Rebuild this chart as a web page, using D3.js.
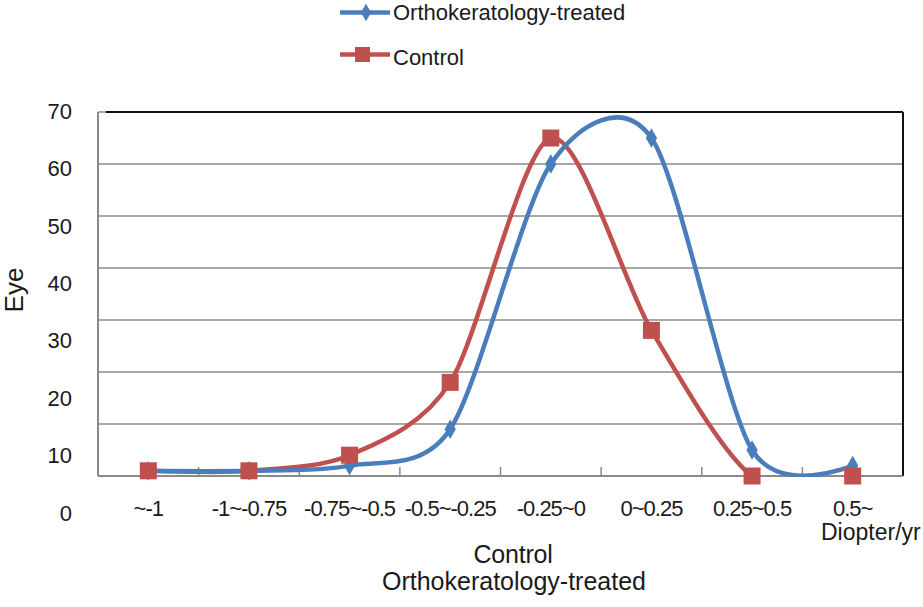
<!DOCTYPE html>
<html>
<head>
<meta charset="utf-8">
<script src="https://cdn.jsdelivr.net/npm/d3@7"></script>
<style>
  html, body { margin: 0; padding: 0; background: #fff; }
  svg { display: block; font-family: "Liberation Sans", Arial, sans-serif; }
</style>
</head>
<body>
<svg id="chart" width="923" height="607"></svg>
<script>
const categories = ["~-1", "-1~-0.75", "-0.75~-0.5", "-0.5~-0.25", "-0.25~0", "0~0.25", "0.25~0.5", "0.5~"];
const orthoValues = [1, 1, 2, 9, 60, 65, 5, 2];
const controlValues = [1, 1, 4, 18, 65, 28, 0, 0];
const yTicks = [0, 10, 20, 30, 40, 50, 60, 70];
const seriesNames = ["Orthokeratology-treated", "Control"];

const blue = "#4a7ebb";
const red = "#c0504d";

const svg = d3.select("#chart");
const plotL = 98, plotR = 903, plotT = 112, plotB = 476;

const x = d3.scaleBand().domain(categories).range([plotL, plotR]);
const y = d3.scaleLinear().domain([0, 70]).range([plotB, plotT]);
// the tick labels of the original sit on their own, wider spacing
const yLab = d3.scaleLinear().domain([0, 70]).range([520, 118.3]);

svg.append("defs").append("clipPath").attr("id", "plotClip")
  .append("rect").attr("x", plotL).attr("y", plotT - 3)
  .attr("width", plotR - plotL).attr("height", plotB - plotT + 4);

// gridlines
svg.append("g").selectAll("line").data(yTicks.filter(d => d > 0)).join("line")
  .attr("x1", plotL).attr("x2", plotR)
  .attr("y1", d => y(d)).attr("y2", d => y(d))
  .attr("stroke", "#8a8a8a").attr("stroke-width", 1.5);

// top border (black) and right border
svg.append("line").attr("x1", plotL + 8).attr("x2", plotR).attr("y1", y(70)).attr("y2", y(70))
  .attr("stroke", "#111").attr("stroke-width", 2);
svg.append("line").attr("x1", plotR).attr("x2", plotR).attr("y1", y(70)).attr("y2", y(0))
  .attr("stroke", "#111").attr("stroke-width", 2);

// left axis line and bottom axis line
svg.append("line").attr("x1", plotL).attr("x2", plotL).attr("y1", y(70)).attr("y2", y(0))
  .attr("stroke", "#8a8a8a").attr("stroke-width", 2);
svg.append("line").attr("x1", plotL).attr("x2", plotR).attr("y1", y(0)).attr("y2", y(0))
  .attr("stroke", "#8a8a8a").attr("stroke-width", 2);

// category boundary tick marks (pointing inward)
svg.append("g").selectAll("line").data(categories.slice(1)).join("line")
  .attr("x1", d => x(d)).attr("x2", d => x(d))
  .attr("y1", y(0)).attr("y2", y(0) - 9)
  .attr("stroke", "#8a8a8a").attr("stroke-width", 1.5);

// y tick labels
const yAxis = svg.append("g").attr("transform", "translate(72,0)")
  .call(d3.axisLeft(yLab).tickValues(yTicks).tickSize(0).tickPadding(0).tickFormat(d3.format("d")));
yAxis.select(".domain").remove();
yAxis.selectAll("text").attr("dy", "0").attr("x", 0)
  .attr("font-size", 22).attr("font-family", "Liberation Sans, Arial, sans-serif").attr("fill", "#1a1a1a");

// x tick labels
const xAxis = svg.append("g").attr("transform", "translate(0,516)")
  .call(d3.axisBottom(x).tickSize(0).tickPadding(0));
xAxis.select(".domain").remove();
xAxis.selectAll("text").attr("dy", "0").attr("y", 0)
  .attr("font-size", 22).attr("letter-spacing", "-1px")
  .attr("font-family", "Liberation Sans, Arial, sans-serif").attr("fill", "#1a1a1a");

// axis titles
svg.append("text").attr("transform", "translate(23,290) rotate(-90)")
  .attr("text-anchor", "middle").attr("font-size", 26).attr("fill", "#1a1a1a").text("Eye");
svg.append("text").attr("x", 821).attr("y", 540).attr("font-size", 23)
  .attr("fill", "#1a1a1a").text("Diopter/yr");
svg.append("text").attr("x", 513).attr("y", 563).attr("text-anchor", "middle")
  .attr("font-size", 25).attr("letter-spacing", "-0.2px").attr("fill", "#1a1a1a").text(seriesNames[1]);
svg.append("text").attr("x", 514).attr("y", 590).attr("text-anchor", "middle")
  .attr("font-size", 25).attr("fill", "#1a1a1a").text(seriesNames[0]);

// lines
const cx = (d, i) => x(categories[i]) + x.bandwidth() / 2;
const line = d3.line().x(cx).y(d => y(d)).curve(d3.curveCardinal.tension(0.15));

const lines = svg.append("g").attr("clip-path", "url(#plotClip)");
lines.append("path").datum(controlValues).attr("d", line)
  .attr("fill", "none").attr("stroke", red).attr("stroke-width", 4.5).attr("stroke-linejoin", "round");
lines.append("path").datum(orthoValues).attr("d", line)
  .attr("fill", "none").attr("stroke", blue).attr("stroke-width", 4.5).attr("stroke-linejoin", "round");

// markers
const diamond = d3.symbol().type(d3.symbolDiamond).size(110);
svg.append("g").selectAll("path").data(orthoValues).join("path")
  .attr("transform", (d, i) => `translate(${cx(d, i)},${y(d)})`)
  .attr("d", diamond).attr("fill", blue);
svg.append("g").selectAll("rect").data(controlValues).join("rect")
  .attr("x", (d, i) => cx(d, i) - 8.5).attr("y", d => y(d) - 8.5)
  .attr("width", 17).attr("height", 17).attr("fill", red);

// legend
const legend = svg.append("g");
legend.append("line").attr("x1", 340).attr("x2", 390).attr("y1", 12.5).attr("y2", 12.5)
  .attr("stroke", blue).attr("stroke-width", 4.5);
legend.append("path").attr("transform", "translate(366,12.5)").attr("d", d3.symbol().type(d3.symbolDiamond).size(90)).attr("fill", blue);
legend.append("text").attr("x", 393).attr("y", 19.5).attr("font-size", 22).attr("fill", "#1a1a1a").text(seriesNames[0]);
legend.append("line").attr("x1", 340).attr("x2", 390).attr("y1", 54.5).attr("y2", 54.5)
  .attr("stroke", red).attr("stroke-width", 4.5);
legend.append("rect").attr("x", 355).attr("y", 47).attr("width", 15).attr("height", 15).attr("fill", red);
legend.append("text").attr("x", 393).attr("y", 65).attr("font-size", 22).attr("fill", "#1a1a1a").text(seriesNames[1]);
</script>
</body>
</html>
